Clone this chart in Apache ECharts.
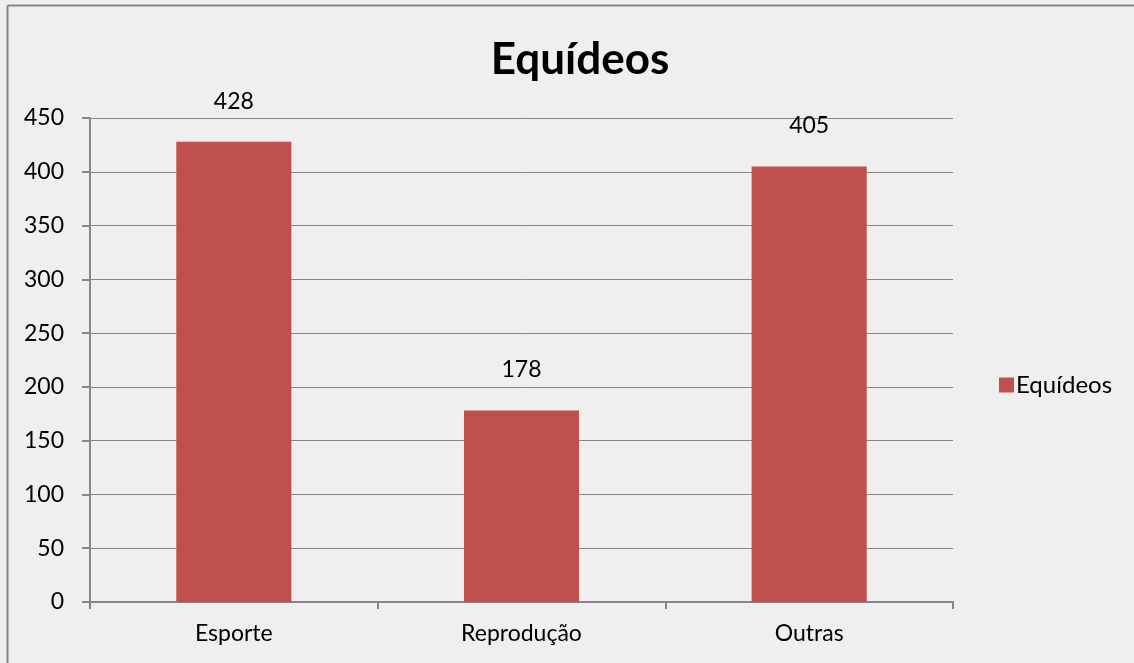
<!DOCTYPE html>
<html>
<head>
<meta charset="utf-8">
<script src="https://cdn.jsdelivr.net/npm/echarts@6/dist/echarts.min.js"></script>
<style>
  html, body { margin: 0; padding: 0; background: #efefef; overflow: hidden; }
  #chart { width: 1134px; height: 663px; }
</style>
</head>
<body>
<div id="chart"></div>
<script>
// dados
const categories = ['Esporte', 'Reprodução', 'Outras'];
const values = [428, 178, 405];
const seriesName = 'Equídeos';

const chart = echarts.init(document.getElementById('chart'));
const font = 'Lato, "Open Sans", sans-serif';

const option = {
  backgroundColor: '#efefef',
  animation: false,
  graphic: [{
    type: 'line',
    shape: { x1: 7.5, y1: 663, x2: 7.5, y2: 5.5 },
    style: { stroke: '#868686', lineWidth: 2 },
    silent: true
  }, {
    type: 'line',
    shape: { x1: 7.5, y1: 5.5, x2: 1134, y2: 5.5 },
    style: { stroke: '#868686', lineWidth: 2 },
    silent: true
  }],
  title: {
    text: seriesName,
    left: 575,
    top: 33,
    textAlign: 'center',
    textStyle: { fontFamily: font, fontSize: 44, fontWeight: 'bold', color: '#000' }
  },
  legend: {
    data: [seriesName],
    left: 994,
    top: 368,
    itemWidth: 15,
    itemHeight: 15,
    itemGap: 4,
    icon: 'rect',
    textStyle: { fontFamily: font, fontSize: 24, color: '#000', padding: [0, 0, 0, -3] }
  },
  grid: { left: 90, right: 181, top: 118, bottom: 61 },
  xAxis: {
    type: 'category',
    data: categories,
    axisLine: { lineStyle: { color: '#868686', width: 2 } },
    axisTick: { show: true, length: 7, lineStyle: { color: '#868686', width: 2 } },
    axisLabel: { fontFamily: font, fontSize: 23, color: '#000', margin: 20 }
  },
  yAxis: {
    type: 'value',
    min: 0,
    max: 450,
    interval: 50,
    axisLine: { show: true, lineStyle: { color: '#868686', width: 2 } },
    axisTick: { show: true, length: 8, lineStyle: { color: '#868686', width: 2 } },
    axisLabel: { fontFamily: font, fontSize: 23, color: '#000', margin: 26 },
    splitLine: { lineStyle: { color: '#868686', width: 1 } }
  },
  series: [{
    name: seriesName,
    type: 'bar',
    data: values,
    barWidth: '40%',
    itemStyle: { color: '#c0504d' },
    label: {
      show: true,
      position: 'top',
      distance: 29,
      fontFamily: font,
      fontSize: 23,
      color: '#000'
    }
  }]
};

chart.setOption(option);
</script>
</body>
</html>
